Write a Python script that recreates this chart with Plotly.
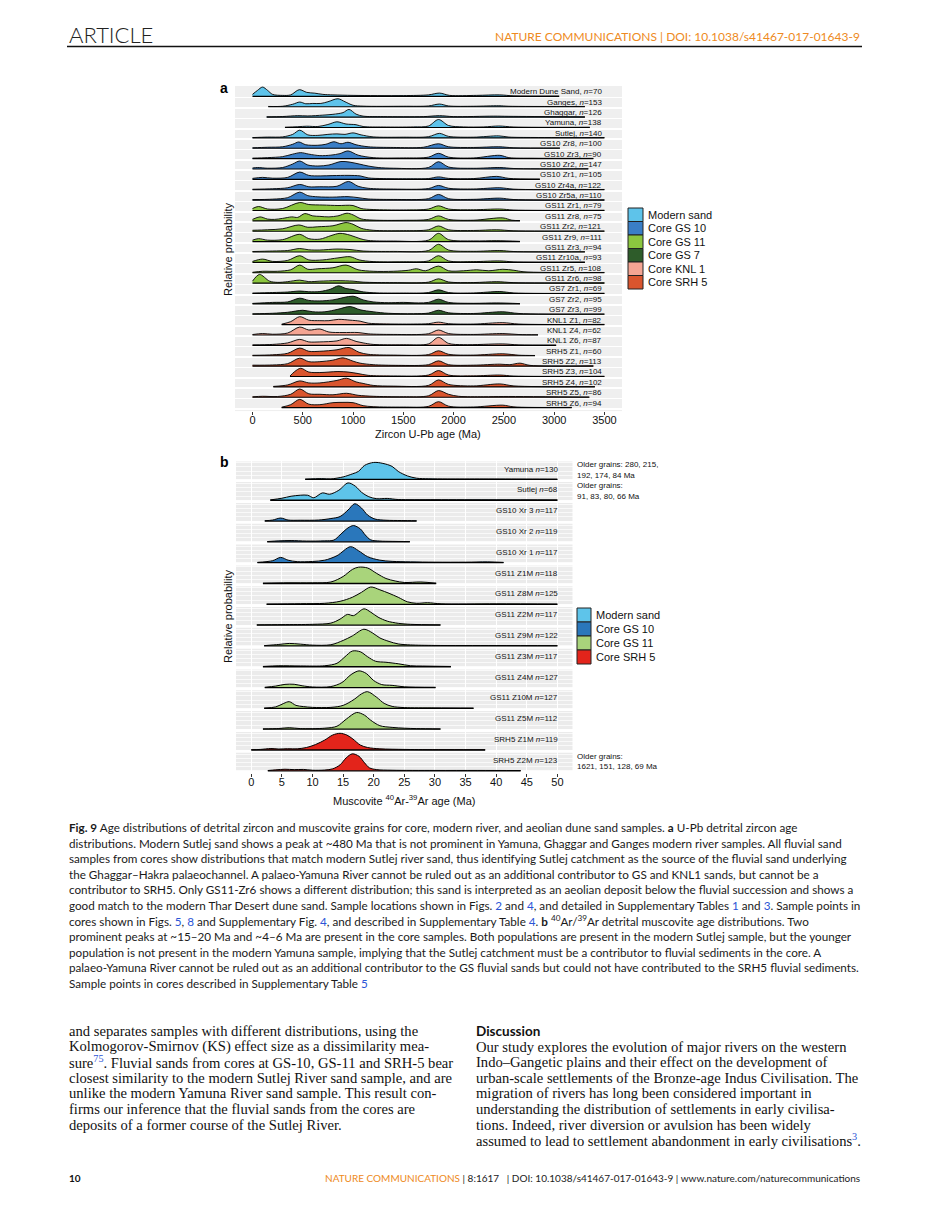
import plotly.graph_objects as go

W, H = 929, 1221

# ---------------- Panel a: zircon U-Pb ridgelines ----------------
zircon_names = ["Modern Dune Sand", "Ganges", "Ghaggar", "Yamuna", "Sutlej",
                "GS10 Zr8", "GS10 Zr3", "GS10 Zr2", "GS10 Zr1", "GS10 Zr4a", "GS10 Zr5a",
                "GS11 Zr1", "GS11 Zr8", "GS11 Zr2", "GS11 Zr9", "GS11 Zr3", "GS11 Zr10a",
                "GS11 Zr5", "GS11 Zr6", "GS7 Zr1", "GS7 Zr2", "GS7 Zr3",
                "KNL1 Z1", "KNL1 Z4", "KNL1 Z6",
                "SRH5 Z1", "SRH5 Z2", "SRH5 Z3", "SRH5 Z4", "SRH5 Z5", "SRH5 Z6"]
zircon_n = [70, 153, 126, 138, 140, 100, 90, 147, 105, 122, 110, 79, 75, 121, 111, 94, 93,
            108, 98, 69, 95, 99, 82, 62, 87, 60, 113, 104, 102, 86, 94]
zircon_group = [0, 0, 0, 0, 0, 1, 1, 1, 1, 1, 1, 2, 2, 2, 2, 2, 2, 2, 2, 3, 3, 3,
                4, 4, 4, 5, 5, 5, 5, 5, 5]
zircon_group_names = ["Modern sand", "Core GS 10", "Core GS 11", "Core GS 7", "Core KNL 1", "Core SRH 5"]
zircon_colors = ["#5EC3EA", "#3A7EC6", "#8CC63F", "#2E5C2A", "#F4A593", "#D9552E"]
zircon_ticks = [0, 500, 1000, 1500, 2000, 2500, 3000, 3500]

# ages (Ma) and ridge heights read at those ages
zircon_ages = [
    [0, 50, 100, 150, 200, 300, 380, 465, 540, 620, 700, 800, 1000, 1500, 1750, 1860, 1960, 2230, 2460, 2600, 3050],
    [157, 300, 400, 470, 530, 600, 680, 750, 850, 920, 1000, 1100, 1500, 1750, 1860, 1950, 2200, 2450, 2550, 3306],
    [141, 300, 450, 550, 700, 800, 900, 960, 1030, 1100, 1300, 1700, 1860, 2000, 2400, 2550, 3306],
    [323, 450, 540, 650, 750, 840, 930, 1030, 1100, 1300, 1600, 1750, 1850, 1950, 2100, 2300, 2450, 2600, 3355],
    [0, 150, 300, 400, 470, 550, 650, 750, 840, 920, 1000, 1080, 1200, 1500, 1750, 1860, 1950, 2200, 2450, 2550, 2800, 3500],
    [0, 150, 300, 400, 460, 530, 650, 730, 810, 880, 950, 1030, 1150, 1400, 1700, 1850, 1950, 2200, 2450, 2600, 3057],
    [0, 150, 300, 400, 480, 560, 670, 780, 870, 950, 1050, 1200, 1500, 1750, 1850, 1950, 2200, 2460, 2550, 2800, 3390],
    [0, 50, 150, 300, 400, 470, 550, 650, 760, 880, 960, 1060, 1150, 1250, 1400, 1750, 1850, 1950, 2200, 2460, 2600, 3340],
    [0, 100, 200, 350, 470, 560, 680, 800, 950, 1070, 1150, 1300, 1600, 1750, 1850, 1950, 2200, 2430, 2550, 2858],
    [0, 200, 350, 470, 560, 670, 840, 955, 1050, 1150, 1400, 1750, 1850, 1950, 2200, 2460, 2600, 3500],
    [0, 200, 350, 470, 550, 650, 800, 950, 1050, 1150, 1400, 1750, 1850, 1950, 2200, 2460, 2600, 3500],
    [0, 60, 150, 300, 470, 560, 700, 850, 1000, 1080, 1200, 1500, 1750, 1850, 1950, 2200, 2460, 2600, 3500],
    [0, 75, 150, 220, 300, 390, 450, 520, 600, 670, 760, 850, 940, 1000, 1080, 1200, 1500, 1750, 1850, 1950, 2200, 2490, 2580, 2660],
    [0, 150, 300, 460, 550, 650, 800, 930, 1000, 1080, 1200, 1500, 1750, 1850, 1950, 2200, 2430, 2600, 3500],
    [0, 60, 150, 300, 470, 560, 670, 780, 870, 970, 1070, 1150, 1400, 1750, 1850, 1950, 2200, 2430, 2660],
    [0, 200, 350, 470, 560, 670, 840, 970, 1100, 1400, 1750, 1850, 1950, 2200, 2460, 2600, 3306],
    [0, 100, 200, 350, 470, 560, 700, 850, 970, 1060, 1200, 1500, 1750, 1850, 1950, 2200, 2460, 2600, 3306],
    [0, 100, 250, 380, 470, 550, 650, 800, 930, 1050, 1200, 1400, 1550, 1630, 1720, 1850, 1950, 2100, 2230, 2350, 2490, 2600, 2700, 3500],
    [0, 70, 170, 250, 350, 470, 560, 670, 840, 1000, 1100, 1400, 1750, 1850, 1950, 2200, 2430, 2600, 3500],
    [0, 200, 350, 470, 560, 670, 780, 855, 930, 1000, 1080, 1200, 1500, 1750, 1850, 1950, 2200, 2460, 2600, 3500],
    [0, 200, 350, 470, 560, 670, 800, 1000, 1100, 1200, 1350, 1500, 1650, 1750, 1850, 1950, 2200, 2430, 2660],
    [0, 200, 350, 500, 600, 720, 850, 970, 1070, 1200, 1350, 1600, 1750, 1850, 1950, 2200, 2490, 2650, 3500],
    [290, 380, 470, 560, 670, 760, 855, 970, 1070, 1150, 1300, 1600, 1750, 1850, 1950, 2200, 2490, 2650, 3500],
    [0, 100, 200, 350, 470, 560, 670, 760, 900, 1050, 1150, 1400, 1750, 1850, 1950, 2200, 2490, 2650, 2840],
    [0, 200, 350, 470, 560, 670, 840, 935, 1030, 1100, 1200, 1500, 1750, 1850, 1950, 2100, 2490, 2650, 3020],
    [0, 200, 350, 470, 560, 670, 840, 960, 1060, 1150, 1400, 1750, 1850, 1950, 2200, 2490, 2650, 2810],
    [0, 200, 350, 470, 560, 670, 800, 900, 1000, 1070, 1200, 1450, 1750, 1850, 1950, 2200, 2460, 2560, 2660, 2760, 3390],
    [373, 420, 480, 560, 670, 850, 950, 1050, 1150, 1400, 1750, 1850, 1950, 2200, 2460, 2600, 3500],
    [207, 350, 470, 560, 670, 840, 935, 1030, 1100, 1200, 1400, 1750, 1850, 1950, 2200, 2460, 2600, 3405],
    [0, 100, 250, 380, 470, 560, 670, 800, 935, 1050, 1200, 1500, 1750, 1850, 1950, 2050, 2300, 2500, 3350],
    [290, 380, 470, 560, 670, 800, 900, 1000, 1100, 1200, 1500, 1750, 1850, 1950, 2200, 2490, 2600, 3175],
]
zircon_heights = [
    [2, 6, 9.3, 6, 2, 1, 1.5, 6.7, 4, 3.2, 2, 1.5, 1, 0.8, 1.5, 3.3, 1, 1, 1.5, 0.5, 0.3],
    [0.3, 0.5, 2.5, 4.7, 3, 3.3, 3.3, 5, 8, 5, 1.5, 0.6, 0.5, 0.8, 2.7, 0.8, 0.5, 1, 0.5, 0.3],
    [0.3, 0.6, 1.5, 1.2, 2, 2.8, 4.5, 7.7, 3, 1, 0.5, 0.5, 1.5, 0.5, 1, 0.8, 0.3],
    [0.3, 0.8, 1.3, 1, 3, 5.7, 3.5, 2.8, 1, 0.5, 0.6, 1.5, 8, 2, 0.6, 0.6, 1.5, 0.5, 0.3],
    [0.3, 0.8, 1, 3.5, 7.7, 3, 2.5, 3.5, 4, 3.5, 5, 3, 1, 0.7, 1.2, 4.5, 1.5, 0.7, 2, 0.8, 0.4, 0.3],
    [0.5, 1, 1.5, 4, 6.3, 3.5, 3, 4, 6.5, 4.5, 6, 3.5, 1.5, 0.8, 1, 4.5, 1.5, 0.8, 1.5, 0.5, 0.3],
    [0.5, 1, 2, 4.5, 6, 4.5, 3, 3.5, 5, 7.7, 3.5, 1, 0.7, 1.5, 5.3, 1.5, 0.7, 3.3, 1, 0.4, 0.3],
    [1, 1.5, 0.8, 1.5, 5, 8, 4, 3, 4, 7.5, 7, 5, 3, 1.5, 0.8, 1.5, 7.3, 2, 0.7, 1.5, 0.5, 0.3],
    [1, 2, 1.2, 2, 7.3, 4, 3.5, 3.8, 4, 3.5, 1.5, 0.8, 0.6, 0.8, 2.5, 1, 0.8, 3, 1, 0.3],
    [0.5, 1, 2, 5.3, 3, 3, 3.5, 8.3, 3.5, 1.5, 0.7, 1.2, 4.3, 1.5, 0.8, 2, 0.6, 0.3],
    [0.5, 1, 2.5, 8, 4.5, 3.3, 3, 3.5, 2.5, 1.2, 0.7, 1.5, 5.7, 1.5, 0.8, 2, 0.6, 0.3],
    [2, 4, 1.5, 2, 8, 6, 5.5, 5, 5, 2, 1, 0.6, 1.5, 4.7, 1.5, 0.8, 1.5, 0.5, 0.3],
    [1.5, 4, 1.8, 1.5, 2.5, 4, 3.5, 7.3, 5, 4.5, 4, 5, 7.7, 6, 2, 0.8, 0.6, 1.5, 5, 1.5, 0.7, 3, 0.7, 0.3],
    [1, 1.5, 2.5, 6.3, 4, 4.5, 5.5, 8.7, 7, 3, 1, 0.6, 1.5, 5.3, 1.5, 0.8, 1.5, 0.5, 0.3],
    [1.5, 3, 1.5, 2, 7.3, 3, 2.5, 6, 8.3, 6.5, 3, 1.2, 0.6, 1.5, 8.3, 2, 0.7, 1, 0.3],
    [0.5, 1, 1.5, 3.5, 2.2, 2, 3, 2.5, 1, 0.6, 1.5, 7.7, 2, 0.7, 1.5, 0.5, 0.3],
    [1, 3.3, 1, 2, 6.7, 2.5, 2.5, 4.5, 5.7, 2.5, 0.8, 0.6, 1.5, 6.7, 1.5, 0.8, 1.5, 0.5, 0.3],
    [0.5, 1.5, 1.5, 3, 7.7, 3.5, 4, 5, 7.7, 3, 1.5, 1.5, 2.5, 4, 2, 6.7, 2, 2, 3, 2, 3.5, 2.5, 1, 0.3],
    [2, 8.7, 2, 0.8, 1.5, 3, 1.5, 2, 2.5, 2, 1, 0.5, 1, 4.3, 1.2, 0.6, 1.5, 0.5, 0.3],
    [0.5, 1, 1.5, 2.5, 1.8, 2, 4.5, 7.7, 5, 4, 2, 0.8, 0.5, 1, 3.7, 1, 0.6, 2, 0.6, 0.3],
    [0.5, 1.5, 2, 5.7, 3.5, 3, 4, 7.7, 4, 2, 1.2, 1.5, 1, 1.5, 4.7, 1.5, 0.6, 1, 0.3],
    [0.5, 1, 2, 4, 2.5, 2.5, 5, 7.7, 4.5, 2.5, 1, 0.6, 1.2, 4, 1.5, 0.8, 2.5, 0.8, 0.3],
    [0.5, 3, 8, 4.5, 4, 4, 5.3, 4.5, 3.5, 1.5, 0.8, 0.6, 1, 2.5, 1, 0.6, 2, 0.6, 0.3],
    [0.5, 1.5, 0.8, 2, 8, 5, 6, 3, 2.5, 2.5, 1.2, 0.6, 1.3, 5, 1.5, 0.6, 1.5, 0.5, 0.3],
    [0.5, 1, 2.5, 6, 3.5, 3.5, 4.5, 7, 4, 2.5, 1, 0.6, 1.5, 8, 2, 0.7, 1.5, 0.5, 0.3],
    [0.5, 1, 2.5, 7.7, 4.5, 4.5, 6, 8.3, 3.5, 1.5, 0.7, 1.2, 5, 1.5, 0.7, 2, 0.6, 0.3],
    [1, 1.2, 2.5, 8, 4.5, 4.5, 6, 8.3, 5, 3, 1.5, 0.8, 1.5, 5.3, 1.5, 1, 2, 1.5, 3, 0.8, 0.3],
    [0.5, 5, 8.3, 4.5, 4, 5, 4.5, 3, 1.2, 0.6, 1.5, 6, 1.5, 0.7, 1.5, 0.5, 0.3],
    [0.5, 2, 6, 4, 4, 6.5, 8.7, 5, 3.5, 1.5, 0.8, 1.5, 7, 2.5, 1, 3, 1, 0.3],
    [0.5, 1, 0.8, 3, 8.3, 3.5, 3, 2.5, 4, 2, 1, 0.6, 1.5, 6.7, 3, 1, 0.6, 0.8, 0.3],
    [0.5, 3, 8.3, 3.5, 3, 5, 5.3, 5, 2, 1, 0.6, 1.3, 6, 1.5, 0.7, 2.5, 0.8, 0.3],
]

# ---------------- Panel b: muscovite Ar-Ar ridgelines ----------------
musc_names = ["Yamuna", "Sutlej", "GS10 Xr 3", "GS10 Xr 2", "GS10 Xr 1", "GS11 Z1M", "GS11 Z8M",
              "GS11 Z2M", "GS11 Z9M", "GS11 Z3M", "GS11 Z4M", "GS11 Z10M", "GS11 Z5M",
              "SRH5 Z1M", "SRH5 Z2M"]
musc_n = [130, 68, 117, 119, 117, 118, 125, 117, 122, 117, 127, 127, 112, 119, 123]
musc_group = [0, 0, 1, 1, 1, 2, 2, 2, 2, 2, 2, 2, 2, 3, 3]
musc_group_names = ["Modern sand", "Core GS 10", "Core GS 11", "Core SRH 5"]
musc_colors = ["#5EC4EA", "#2A77BB", "#A9D47B", "#E3241B"]
musc_ticks = [0, 5, 10, 15, 20, 25, 30, 35, 40, 45, 50]
musc_ages = [
    [8.8, 11.5, 13, 15, 16.5, 17.5, 18.5, 20, 21.5, 23, 24, 25.5, 27, 29, 32, 38, 45, 50],
    [3.1, 5, 6.5, 8, 9.2, 10.2, 11.6, 12.8, 14.3, 15.8, 17, 18, 19.2, 20.5, 22.2, 24, 30, 40, 50],
    [2.2, 3.5, 4.8, 6, 8, 11, 13, 14.5, 15.8, 16.9, 18, 19, 20.2, 22, 24.5, 27],
    [2.6, 4.5, 6.5, 9, 12, 13.5, 14.5, 15.8, 16.7, 17.8, 18.6, 19.5, 21, 23, 25.9],
    [1, 3.5, 4.8, 6, 7.5, 10, 12, 14, 16.2, 17.5, 19, 21, 23, 26, 30, 35, 38.6, 41.2],
    [1.9, 6, 10, 13, 15, 16.5, 17.5, 19, 20.5, 22, 23.5, 25, 27.7, 30.2],
    [2.5, 8, 12, 14.5, 16.5, 18, 19.5, 21, 22.5, 24, 25.5, 27, 28.8, 31, 40, 50],
    [0.9, 5, 10, 13, 14.5, 15.7, 16.7, 18.4, 19.5, 20.7, 22.2, 24, 26, 30.9],
    [2.1, 4.5, 6.2, 8, 10, 13, 15, 16.5, 18.4, 19.8, 21, 22.5, 24, 26, 30, 40, 50],
    [1.9, 4.5, 8, 12, 14, 15.3, 16.5, 17.8, 19, 20.3, 22, 24, 26, 28, 32.6],
    [2.2, 4, 5.5, 7, 8.3, 10, 13, 14.8, 16.3, 17.6, 18.8, 20, 21.3, 23, 25, 30.1],
    [2.1, 4, 5.3, 6.2, 7.3, 8.5, 10, 13, 15, 16.8, 18, 19, 20.5, 21.7, 23, 25, 30, 36.3],
    [1.9, 4.5, 6.2, 8, 12, 14, 15.5, 17.2, 18.5, 19.5, 21, 23, 25, 27, 30.9],
    [0, 1.5, 3.2, 4.5, 5.9, 7.5, 9, 10.5, 12, 13.3, 14.5, 15.6, 16.6, 17.8, 19, 21, 23, 28, 38.2],
    [2.7, 4, 5.5, 7, 8.5, 10, 12, 13.3, 14.5, 15.5, 16.5, 17.6, 18.5, 19.3, 20.5, 23, 30, 37, 44],
]
musc_heights = [
    [0.3, 0.8, 0.5, 2.5, 5.5, 8, 14, 17, 16, 13, 8, 3.5, 1.2, 0.6, 0.4, 0.4, 0.3, 0.2],
    [0.3, 2, 4, 5, 5, 2.5, 7.3, 6, 10, 17.3, 14, 8, 3.5, 1.5, 1.8, 0.7, 0.5, 0.4, 0.3],
    [0.3, 1, 3, 1, 0.8, 1, 2.5, 4.5, 11, 17.3, 13, 6, 2, 0.8, 0.5, 0.3],
    [0.3, 1, 1.3, 0.8, 1, 1.8, 7, 14, 16.3, 13, 7, 2, 0.8, 0.5, 0.3],
    [0.3, 2, 5.3, 2.5, 1, 1.2, 2.5, 7, 16, 12, 6, 2.5, 1.3, 0.8, 0.5, 0.5, 0.8, 0.3],
    [0.3, 0.7, 0.7, 1.5, 7, 14, 16.3, 15.5, 10, 5, 2.5, 1, 1.5, 0.3],
    [0.3, 0.6, 1, 3, 7, 12, 17.3, 14.5, 11, 7, 2.5, 1, 1.6, 0.5, 0.5, 0.3],
    [0.3, 0.5, 0.8, 2, 6, 10.7, 9.5, 16.3, 13, 8, 4, 1.8, 0.8, 0.3],
    [0.3, 1.5, 2.5, 1.8, 0.8, 1.2, 5.5, 10, 16.7, 13, 8, 4.5, 2, 1, 0.5, 0.4, 0.3],
    [0.3, 1, 0.8, 1, 3.5, 10, 15.7, 15, 10, 5.5, 4.5, 3, 1, 0.7, 0.3],
    [0.3, 1.5, 3.2, 3.3, 1.8, 0.6, 1, 5, 13, 16.7, 14, 7, 3, 2.2, 0.8, 0.3],
    [0.3, 1.5, 5, 6.7, 3, 1.8, 1, 1, 3, 9, 14.5, 16.7, 11, 5, 2, 0.8, 0.5, 0.3],
    [0.3, 0.7, 1.5, 0.6, 1, 3, 10, 16.7, 14, 9, 3.5, 1.8, 1, 0.6, 0.3],
    [0.3, 0.6, 1.5, 1, 1.3, 1.2, 2.5, 5.5, 10, 15, 16.7, 15, 11, 5, 2.5, 1.2, 0.8, 0.4, 0.3],
    [0.3, 1, 1.6, 1.2, 1.4, 0.6, 0.8, 2, 6, 13, 17, 14.5, 8, 3, 1.2, 0.6, 0.4, 0.4, 0.3],
]
older_grains_text = [("Older grains: 280, 215,", "192, 174, 84 Ma", 0),
                     ("Older grains:", "91, 83, 80, 66 Ma", 1),
                     ("Older grains:", "1621, 151, 128, 69 Ma", 14)]

# ---------------- geometry helpers ----------------
def fx(px):
    return px / W

def fy(py):
    return 1 - py / H

SANS = "Liberation Sans, Arial, Helvetica, sans-serif"
CAP = "Lato, Roboto, sans-serif"
SERIF = "Liberation Serif, Times New Roman, serif"

ROW_A_PX = 10.376   # pixels per ridge row in panel a (used to convert heights)
ROW_B_PX = 20.82
NA = len(zircon_names)
NB = len(musc_names)

fig = go.Figure()

# panel a ridges (top row first so lower rows overlap)
for i in range(NA):
    base = (NA - 1) - i
    xs = zircon_ages[i]
    ys = [base + h / ROW_A_PX for h in zircon_heights[i]]
    col = zircon_colors[zircon_group[i]]
    fig.add_trace(go.Scatter(x=[xs[0], xs[-1]], y=[base, base], mode="lines",
                             line=dict(color="black", width=1.1), xaxis="x", yaxis="y",
                             hoverinfo="skip", showlegend=False))
    fig.add_trace(go.Scatter(x=xs, y=ys, mode="lines", fill="tonexty", fillcolor=col,
                             line=dict(color="black", width=0.9, shape="spline", smoothing=0.9),
                             xaxis="x", yaxis="y", hoverinfo="skip", showlegend=False))

for i in range(NB):
    base = (NB - 1) - i
    xs = musc_ages[i]
    ys = [base + h / ROW_B_PX for h in musc_heights[i]]
    col = musc_colors[musc_group[i]]
    fig.add_trace(go.Scatter(x=[xs[0], xs[-1]], y=[base, base], mode="lines",
                             line=dict(color="black", width=1.3), xaxis="x2", yaxis="y2",
                             hoverinfo="skip", showlegend=False))
    fig.add_trace(go.Scatter(x=xs, y=ys, mode="lines", fill="tonexty", fillcolor=col,
                             line=dict(color="black", width=1.0, shape="spline", smoothing=0.9),
                             xaxis="x2", yaxis="y2", hoverinfo="skip", showlegend=False))

shapes = []
annotations = []

# panel a background
shapes.append(dict(type="rect", xref="x", yref="y", x0=-175, x1=3675, y0=-0.35, y1=31.0,
                   fillcolor="#EFEFEF", line=dict(width=0), layer="below"))
# panel b bands
for i in range(NB):
    base = (NB - 1) - i
    shapes.append(dict(type="rect", xref="x2", yref="y2", x0=-2.5, x1=52.5, y0=base, y1=base + 0.87,
                       fillcolor="#EBEBEB", line=dict(width=0), layer="below"))

# labels panel a
for i in range(NA):
    base = (NA - 1) - i
    annotations.append(dict(xref="x", yref="y", x=3500, y=base + 0.44, xanchor="right", yanchor="middle",
                            text=f"{zircon_names[i]}, <i>n</i>={zircon_n[i]}", showarrow=False,
                            font=dict(family=SANS, size=8, color="#111")))
for i in range(NB):
    base = (NB - 1) - i
    annotations.append(dict(xref="x2", yref="y2", x=50.4, y=base + 0.5, xanchor="right", yanchor="middle",
                            text=f"{musc_names[i]} <i>n</i>={musc_n[i]}", showarrow=False,
                            font=dict(family=SANS, size=8, color="#111")))

for l1, l2, row in older_grains_text:
    base = (NB - 1) - row
    annotations.append(dict(xref="paper", yref="y2", x=fx(575), y=base + 0.7, xanchor="left", yanchor="middle",
                            text=l1, showarrow=False, font=dict(family=SANS, size=8, color="#111")))
    annotations.append(dict(xref="paper", yref="y2", x=fx(575), y=base + 0.2, xanchor="left", yanchor="middle",
                            text=l2, showarrow=False, font=dict(family=SANS, size=8, color="#111")))

# legends (keys as shapes)
def legend(x0, y0, bw, bh, names, colors):
    for k, (nm, c) in enumerate(zip(names, colors)):
        t = y0 + k * bh
        shapes.append(dict(type="rect", xref="paper", yref="paper", x0=fx(x0), x1=fx(x0 + bw),
                           y0=fy(t + bh), y1=fy(t), fillcolor=c, line=dict(color="#222", width=1)))
        annotations.append(dict(xref="paper", yref="paper", x=fx(x0 + bw + 2.5), y=fy(t + bh / 2),
                                xanchor="left", yanchor="middle", text=nm, showarrow=False,
                                font=dict(family=SANS, size=11, color="#111")))

legend(628, 208, 15, 13.5, zircon_group_names, zircon_colors)
legend(577, 608, 14, 14, musc_group_names, musc_colors)

# panel letters, axis titles
annotations += [
    dict(xref="paper", yref="paper", x=fx(218), y=fy(88), text="<b>a</b>", showarrow=False,
         xanchor="left", yanchor="middle", font=dict(family=SANS, size=14, color="#000")),
    dict(xref="paper", yref="paper", x=fx(218), y=fy(462), text="<b>b</b>", showarrow=False,
         xanchor="left", yanchor="middle", font=dict(family=SANS, size=14, color="#000")),
    dict(xref="paper", yref="paper", x=fx(428), y=fy(434), text="Zircon U-Pb age (Ma)", showarrow=False,
         xanchor="center", yanchor="middle", font=dict(family=SANS, size=11, color="#111")),
    dict(xref="paper", yref="paper", x=fx(403.7), y=fy(800),
         text="Muscovite <sup>40</sup>Ar-<sup>39</sup>Ar age (Ma)", showarrow=False,
         xanchor="center", yanchor="middle", font=dict(family=SANS, size=11, color="#111")),
    dict(xref="paper", yref="paper", x=fx(228), y=fy(250), text="Relative probability", showarrow=False,
         textangle=-90, xanchor="center", yanchor="middle", font=dict(family=SANS, size=11, color="#111")),
    dict(xref="paper", yref="paper", x=fx(228), y=fy(617), text="Relative probability", showarrow=False,
         textangle=-90, xanchor="center", yanchor="middle", font=dict(family=SANS, size=11, color="#111")),
]

# ---------------- page text ----------------
def txt(x, y, s, size, family, color="#111", xanchor="left", weight=None):
    f = dict(family=family, size=size, color=color)
    if weight:
        f["weight"] = weight
    annotations.append(dict(xref="paper", yref="paper", x=fx(x), y=fy(y), text=s, showarrow=False,
                            xanchor=xanchor, yanchor="middle", font=f))

ORANGE = "#EE8A22"
BLUE = "#2B55D6"
txt(67, 35, "ARTICLE", 22, CAP, "#222", weight=300)
txt(862, 37, "NATURE COMMUNICATIONS | DOI: 10.1038/s41467-017-01643-9", 12, CAP, ORANGE, "right")
shapes.append(dict(type="line", xref="paper", yref="paper", x0=fx(67), x1=fx(862), y0=fy(46.5), y1=fy(46.5),
                   line=dict(color="#111", width=1.5)))

def ln(s):
    return f"<span style='color:{BLUE}'>{s}</span>"

caption = [
    "<b>Fig. 9</b> Age distributions of detrital zircon and muscovite grains for core, modern river, and aeolian dune sand samples. <b>a</b> U-Pb detrital zircon age",
    "distributions. Modern Sutlej sand shows a peak at ~480 Ma that is not prominent in Yamuna, Ghaggar and Ganges modern river samples. All fluvial sand",
    "samples from cores show distributions that match modern Sutlej river sand, thus identifying Sutlej catchment as the source of the fluvial sand underlying",
    "the Ghaggar–Hakra palaeochannel. A palaeo-Yamuna River cannot be ruled out as an additional contributor to GS and KNL1 sands, but cannot be a",
    "contributor to SRH5. Only GS11-Zr6 shows a different distribution; this sand is interpreted as an aeolian deposit below the fluvial succession and shows a",
    f"good match to the modern Thar Desert dune sand. Sample locations shown in Figs. {ln('2')} and {ln('4')}, and detailed in Supplementary Tables {ln('1')} and {ln('3')}. Sample points in",
    f"cores shown in Figs. {ln('5')}, {ln('8')} and Supplementary Fig. {ln('4')}, and described in Supplementary Table {ln('4')}. <b>b</b> <sup>40</sup>Ar/<sup>39</sup>Ar detrital muscovite age distributions. Two",
    "prominent peaks at ~15–20 Ma and ~4–6 Ma are present in the core samples. Both populations are present in the modern Sutlej sample, but the younger",
    "population is not present in the modern Yamuna sample, implying that the Sutlej catchment must be a contributor to fluvial sediments in the core. A",
    "palaeo-Yamuna River cannot be ruled out as an additional contributor to the GS fluvial sands but could not have contributed to the SRH5 fluvial sediments.",
    f"Sample points in cores described in Supplementary Table {ln('5')}",
]
for k, s in enumerate(caption):
    txt(67, 827 + k * 15.6, s, 11.7, CAP, "#1a1a1a")

left_col = [
    "and separates samples with different distributions, using the",
    "Kolmogorov-Smirnov (KS) effect size as a dissimilarity mea-",
    f"sure{ln('<sup>75</sup>')}. Fluvial sands from cores at GS-10, GS-11 and SRH-5 bear",
    "closest similarity to the modern Sutlej River sand sample, and are",
    "unlike the modern Yamuna River sand sample. This result con-",
    "firms our inference that the fluvial sands from the cores are",
    "deposits of a former course of the Sutlej River.",
]
right_col = [
    "Our study explores the evolution of major rivers on the western",
    "Indo–Gangetic plains and their effect on the development of",
    "urban-scale settlements of the Bronze-age Indus Civilisation. The",
    "migration of rivers has long been considered important in",
    "understanding the distribution of settlements in early civilisa-",
    "tions. Indeed, river diversion or avulsion has been widely",
    f"assumed to lead to settlement abandonment in early civilisations{ln('<sup>3</sup>')}.",
]
for k, s in enumerate(left_col):
    txt(67, 1031 + k * 15.6, s, 14.6, SERIF, "#111")
txt(474, 1031, "<b>Discussion</b>", 13.5, CAP, "#111")
for k, s in enumerate(right_col):
    txt(474, 1046.6 + k * 15.6, s, 14.6, SERIF, "#111")

txt(67, 1178, "<b>10</b>", 10, CAP, "#111")
txt(862, 1178, f"<span style='color:{ORANGE}'>NATURE COMMUNICATIONS</span> | 8:1617 &nbsp; | DOI: 10.1038/s41467-017-01643-9 | www.nature.com/naturecommunications",
    10, CAP, "#222", "right")

fig.update_layout(
    width=W, height=H, autosize=False,
    margin=dict(l=0, r=0, t=0, b=0, pad=0),
    paper_bgcolor="white", plot_bgcolor="white",
    showlegend=False,
    shapes=shapes, annotations=annotations,
    xaxis=dict(domain=[fx(234.9), fx(622)], range=[-175, 3675], anchor="y",
               tickvals=zircon_ticks, ticks="outside", ticklen=3, tickcolor="#333", tickwidth=1,
               ticklabelstandoff=-5,
               showgrid=False, zeroline=False, showline=False,
               tickfont=dict(family=SANS, size=11, color="#111")),
    yaxis=dict(domain=[fy(411.3), fy(86)], range=[-0.35, 31.0], anchor="x",
               tickvals=[b - 0.12 for b in range(NA)], showticklabels=False, ticks="",
               showgrid=True, gridcolor="white", gridwidth=1.6, zeroline=False, showline=False),
    xaxis2=dict(domain=[fx(236), fx(572.7)], range=[-2.5, 52.5], anchor="y2",
                tickvals=musc_ticks, ticks="outside", ticklen=3, tickcolor="#333", tickwidth=1,
                ticklabelstandoff=-4,
                showgrid=True, gridcolor="white", gridwidth=1, zeroline=False, showline=False,
                tickfont=dict(family=SANS, size=11, color="#111")),
    yaxis2=dict(domain=[fy(772.5), fy(461.3)], range=[-0.08, 14.87], anchor="x2",
                tick0=0, dtick=0.2, showticklabels=False, ticks="",
                showgrid=True, gridcolor="white", gridwidth=0.7, zeroline=False, showline=False),
)

fig.write_html("out.html", config={"displayModeBar": False, "staticPlot": True},
               post_script="document.body.style.margin='0px';")
